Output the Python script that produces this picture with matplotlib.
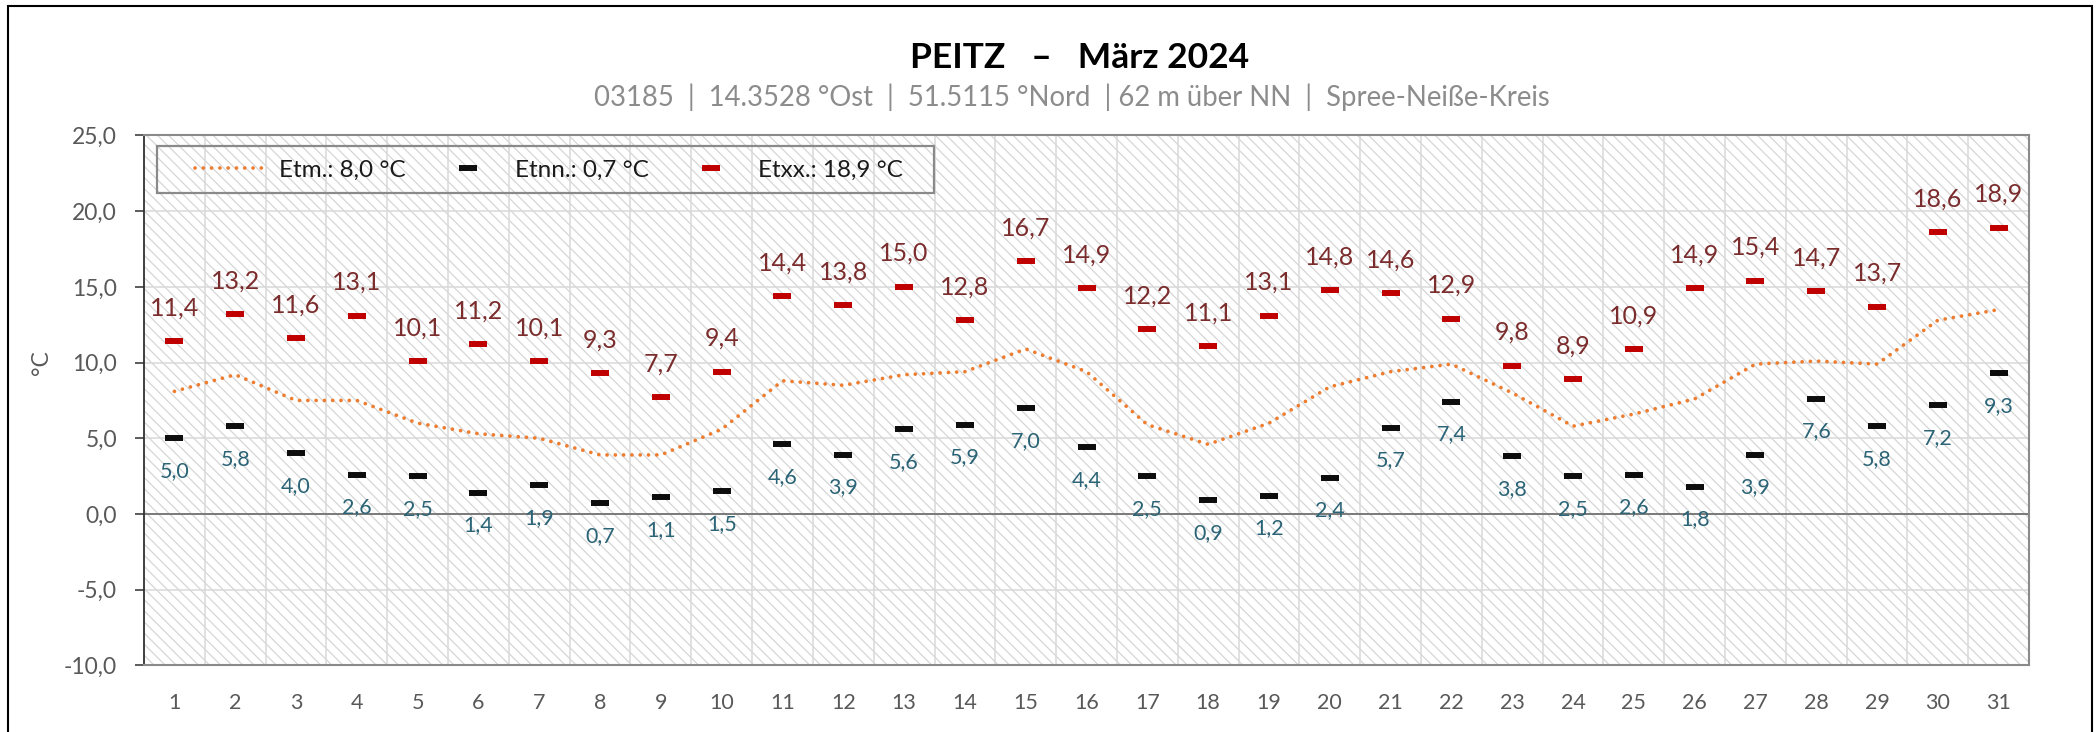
import matplotlib
matplotlib.use("Agg")
import matplotlib.pyplot as plt
from matplotlib.patches import Rectangle
from matplotlib.ticker import FuncFormatter, MultipleLocator
import numpy as np

plt.rcParams['font.family'] = ['Lato', 'DejaVu Sans']
plt.rcParams['hatch.linewidth'] = 0.9

# Tageswerte März 2024, Station Peitz
tage = list(range(1, 32))
etm = [8.1, 9.2, 7.5, 7.5, 6.0, 5.3, 5.0, 3.9, 3.9, 5.6,
       8.8, 8.5, 9.2, 9.4, 10.9, 9.4, 5.9, 4.6, 6.0, 8.4,
       9.4, 9.9, 8.0, 5.8, 6.6, 7.6, 9.9, 10.1, 9.9, 12.8, 13.5]
etnn = [5.0, 5.8, 4.0, 2.6, 2.5, 1.4, 1.9, 0.7, 1.1, 1.5,
        4.6, 3.9, 5.6, 5.9, 7.0, 4.4, 2.5, 0.9, 1.2, 2.4,
        5.7, 7.4, 3.8, 2.5, 2.6, 1.8, 3.9, 7.6, 5.8, 7.2, 9.3]
etxx = [11.4, 13.2, 11.6, 13.1, 10.1, 11.2, 10.1, 9.3, 7.7, 9.4,
        14.4, 13.8, 15.0, 12.8, 16.7, 14.9, 12.2, 11.1, 13.1, 14.8,
        14.6, 12.9, 9.8, 8.9, 10.9, 14.9, 15.4, 14.7, 13.7, 18.6, 18.9]

titel = "PEITZ   –   März 2024"
untertitel = "03185  |  14.3528 °Ost  |  51.5115 °Nord  | 62 m über NN  |  Spree-Neiße-Kreis"
leg_etm = "Etm.: 8,0 °C"
leg_etnn = "Etnn.: 0,7 °C"
leg_etxx = "Etxx.: 18,9 °C"


def de(v):
    return f"{v:.1f}".replace(".", ",")


fig = plt.figure(figsize=(20.99, 7.32), dpi=100)
ax = fig.add_axes([0.0686, 0.0910, 0.8981, 0.7239])

# Hintergrund schraffiert
ax.patch.set_facecolor("white")
ax.add_patch(Rectangle((0, 0), 1, 1, transform=ax.transAxes, facecolor="white",
                       edgecolor="#d6d6d6", hatch="\\\\\\", lw=0, zorder=0))

ax.set_xlim(0.5, 31.5)
ax.set_ylim(-10, 25)
ax.yaxis.set_major_locator(MultipleLocator(5))
ax.yaxis.set_major_formatter(FuncFormatter(lambda v, p: de(v)))
ax.set_xticks(tage)
ax.set_xticks(np.arange(1.5, 31, 1), minor=True)
ax.grid(True, which="major", axis="y", color="#d9d9d9", lw=1.1, zorder=1)
ax.grid(True, which="minor", axis="x", color="#d9d9d9", lw=1.1, zorder=1)
ax.set_axisbelow(True)
ax.axhline(0, color="#7a7a7a", lw=1.4, zorder=2)

ax.tick_params(axis="y", which="major", length=6.5, width=1.2, color="#404040",
               labelsize=16.5, labelcolor="#595959", pad=13)
ax.tick_params(axis="x", which="both", length=0, labelsize=15.5,
               labelcolor="#595959", pad=20)
for s in ["top", "right", "bottom"]:
    ax.spines[s].set_color("#8a8a8a")
    ax.spines[s].set_linewidth(1.5)
ax.spines["left"].set_color("#303030")
ax.spines["left"].set_linewidth(1.3)

l_etm, = ax.plot(tage, etm, color="#ed7d31", lw=2.7, linestyle=(0, (0.01, 2.2)),
                 dash_capstyle="round", zorder=3)
l_etnn, = ax.plot(tage, etnn, linestyle="none", marker="_", markersize=13,
                  markeredgewidth=4.3, color="#0d0d0d", zorder=4)
l_etxx, = ax.plot(tage, etxx, linestyle="none", marker="_", markersize=13,
                  markeredgewidth=4.3, color="#c00000", zorder=4)

for d, v in zip(tage, etxx):
    ax.annotate(de(v), (d, v), xytext=(0, 24), textcoords="offset points",
                ha="center", va="center", fontsize=18, color="#7b2c2c")
for d, v in zip(tage, etnn):
    ax.annotate(de(v), (d, v), xytext=(0, -23.5), textcoords="offset points",
                ha="center", va="center", fontsize=15.5, color="#2b6476")

# Legende ohne eigenen Rahmen, Rahmen separat
ax.legend([l_etm, l_etnn, l_etxx], [leg_etm, leg_etnn, leg_etxx], ncol=3,
          loc="center left", bbox_to_anchor=(0.0271, 0.9349), frameon=False,
          borderpad=0, borderaxespad=0, fontsize=17.5, handlelength=3.0,
          handletextpad=0.45, columnspacing=1.05, labelcolor="#1a1a1a")
ax.add_patch(Rectangle((0.0069, 0.8915), 0.4122, 0.0893, transform=ax.transAxes,
                       facecolor="none", edgecolor="#8a8a8a", lw=1.6, zorder=5))

fig.text(0.5145, 0.907, titel, ha="center", va="baseline", fontsize=25.5,
         fontweight="bold", color="black")
fig.text(0.5105, 0.855, untertitel, ha="center", va="baseline", fontsize=19.8,
         color="#8c8c8c")
fig.text(0.020, 0.504, "°C", rotation=90, ha="center", va="center",
         fontsize=16.5, color="#595959")

# Rahmen um das Diagramm
fig.add_artist(Rectangle((0.0038, -0.05), 0.9929, 1.0418, transform=fig.transFigure,
                         facecolor="none", edgecolor="black", lw=1.5))

fig.savefig("out.png", dpi=100)
